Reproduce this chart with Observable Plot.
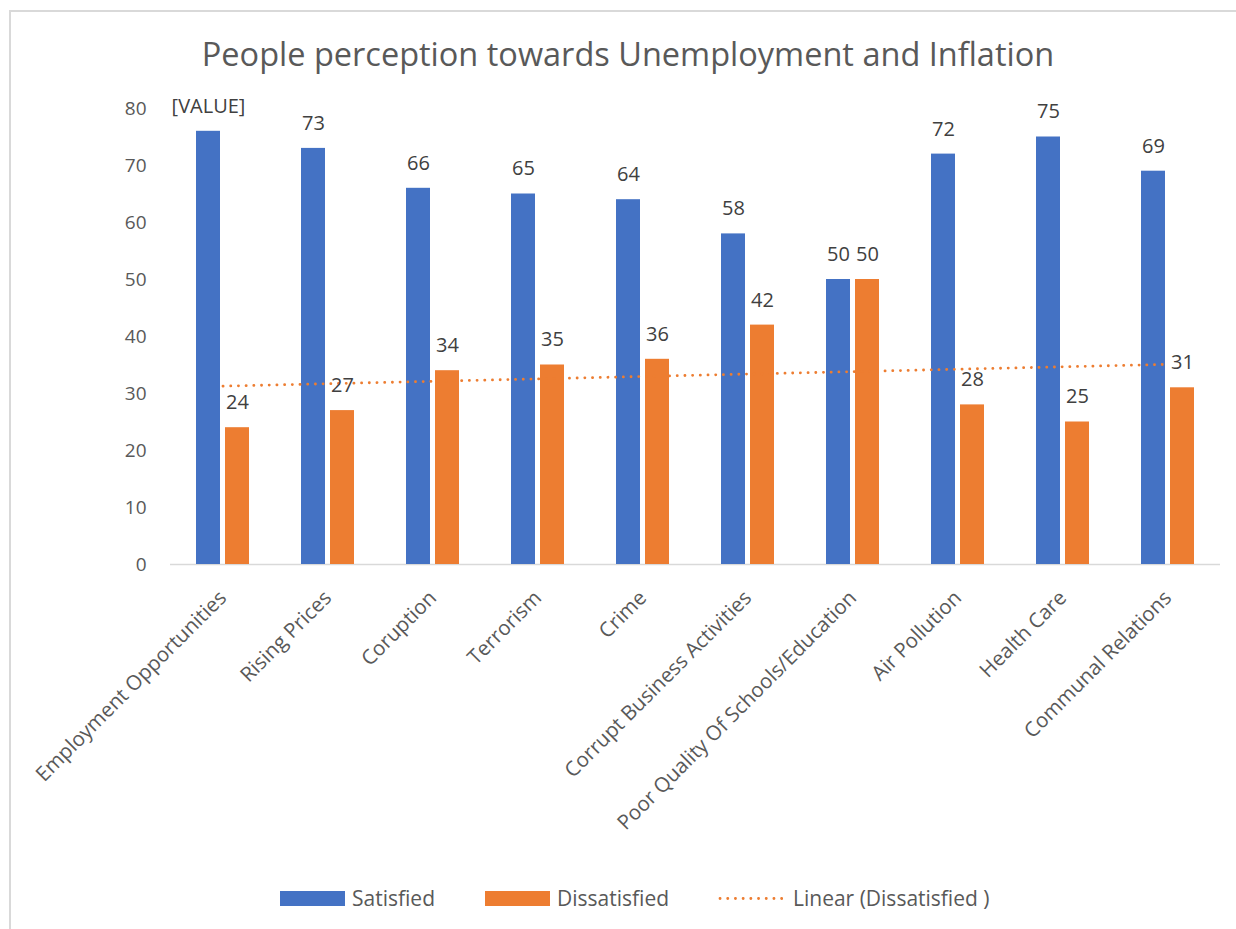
<!DOCTYPE html>
<html>
<head>
<meta charset="utf-8">
<script src="https://cdn.jsdelivr.net/npm/d3@7"></script>
<script src="https://cdn.jsdelivr.net/npm/@observablehq/plot@0.6"></script>
<style>
  body { margin: 0; background: #fff; font-family: "Open Sans", sans-serif; }
  #wrap { position: relative; width: 1236px; height: 929px; overflow: hidden; }
  #frame { position: absolute; left: 9px; top: 10px; width: 1260px; height: 940px; border: 2px solid #d9d9d9; box-sizing: border-box; }
  #title { position: absolute; top: 31px; left: 0; width: 1236px; padding-left: 20px; box-sizing: border-box; text-align: center; font-size: 32.5px; color: #595959; white-space: nowrap; }
  #chart { position: absolute; left: 0; top: 90px; }
  .leg { position: absolute; top: 884px; display: flex; align-items: center; font-size: 21px; color: #595959; white-space: nowrap; }
  .sw { width: 65px; height: 15px; margin-right: 7px; }
</style>
</head>
<body>
<div id="wrap">
  <div id="frame"></div>
  <div id="title">People perception towards Unemployment and Inflation</div>
  <div id="chart"></div>
  <div class="leg" style="left:280px"><div class="sw" style="background:#4472C4"></div><span>Satisfied</span></div>
  <div class="leg" style="left:485px"><div class="sw" style="background:#ED7D31"></div><span>Dissatisfied</span></div>
  <div class="leg" style="left:718px"><svg width="65" height="15" style="margin-right:10px"><line x1="2" y1="7.5" x2="64" y2="7.5" stroke="#ED7D31" stroke-width="2.8" stroke-linecap="round" stroke-dasharray="0.1 7.6"/></svg><span>Linear (Dissatisfied )</span></div>
</div>
<script>
const categories = [
  "Employment Opportunities", "Rising Prices", "Coruption", "Terrorism", "Crime",
  "Corrupt Business Activities", "Poor Quality Of Schools/Education", "Air Pollution",
  "Health Care", "Communal Relations"
];
const satisfied = [76, 73, 66, 65, 64, 58, 50, 72, 75, 69];
const dissatisfied = [24, 27, 34, 35, 36, 42, 50, 28, 25, 31];
const satisfiedLabels = ["[VALUE]", "73", "66", "65", "64", "58", "50", "72", "75", "69"];
const dissatisfiedLabels = ["24", "27", "34", "35", "36", "42", "50", "28", "25", "31"];
const yTicks = [0, 10, 20, 30, 40, 50, 60, 70, 80];

const satData = categories.map((c, i) => ({category: c, value: satisfied[i], label: satisfiedLabels[i]}));
const disData = categories.map((c, i) => ({category: c, value: dissatisfied[i], label: dissatisfiedLabels[i]}));

// Linear trendline (least squares) of Dissatisfied over category index 1..n
const n = dissatisfied.length;
const xs = d3.range(1, n + 1);
const mx = d3.mean(xs), my = d3.mean(dissatisfied);
const slope = d3.sum(xs, (x, i) => (x - mx) * (dissatisfied[i] - my)) / d3.sum(xs, x => (x - mx) ** 2);
const intercept = my - slope * mx;
const trend = categories.map((c, i) => ({category: c, value: intercept + slope * (i + 1)}));

const chart = Plot.plot({
  width: 1236,
  height: 790,
  marginLeft: 170,
  marginRight: 16,
  marginTop: 18,
  marginBottom: 316,
  style: {fontFamily: "'Open Sans', sans-serif", fontSize: "18px", color: "#595959", background: "transparent"},
  x: {domain: categories, padding: 0, label: null},
  y: {domain: [0, 80], label: null},
  marks: [
    Plot.axisY({ticks: yTicks, tickSize: 0, tickPadding: 24, fontSize: 19, fill: "#595959", label: null}),
    Plot.axisX({tickSize: 0, tickRotate: -45, tickPadding: 30, fontSize: 20.5, fill: "#595959", label: null}),
    Plot.ruleY([0], {stroke: "#d9d9d9", strokeWidth: 1.5}),
    Plot.barY(satData, {x: "category", y: "value", fill: "#4472C4", insetLeft: 26, insetRight: 55}),
    Plot.barY(disData, {x: "category", y: "value", fill: "#ED7D31", insetLeft: 55, insetRight: 26}),
    Plot.lineY(trend, {x: "category", y: "value", stroke: "#ED7D31", strokeWidth: 2.8, strokeDasharray: "0.1 7.6", strokeLinecap: "round"}),
    Plot.text(satData, {x: "category", y: "value", text: "label", dx: -14.5, dy: -25, fontSize: 20, fill: "#404040"}),
    Plot.text(disData, {x: "category", y: "value", text: "label", dx: 14.5, dy: -25, fontSize: 20, fill: "#404040"})
  ]
});
document.getElementById("chart").appendChild(chart);
</script>
</body>
</html>
